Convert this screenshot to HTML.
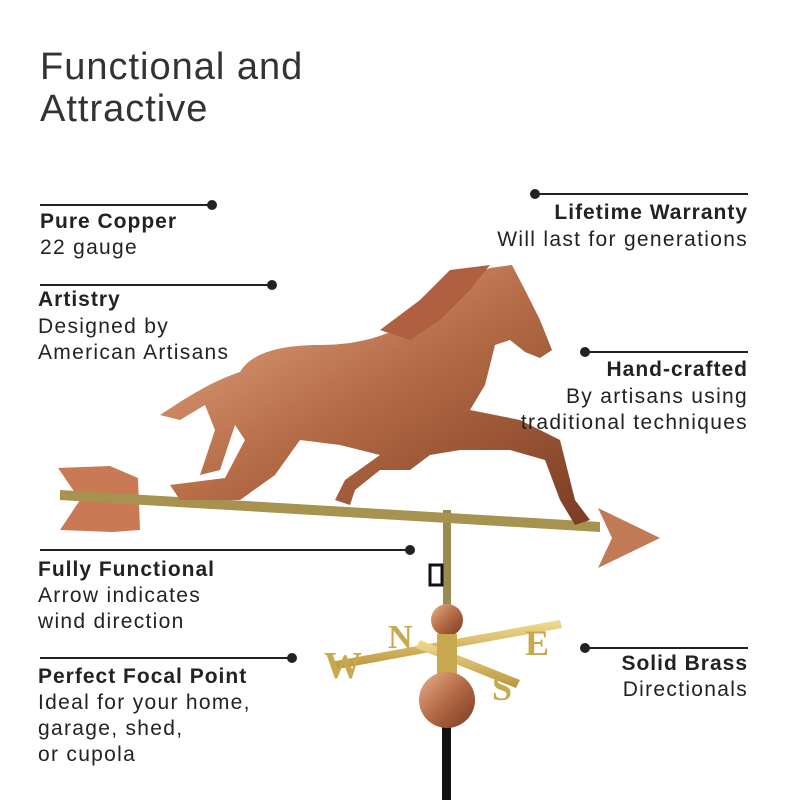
<!DOCTYPE html>
<html><head><meta charset="utf-8"><style>
body{margin:0;width:800px;height:800px;background:#fff;position:relative;overflow:hidden;font-family:"Liberation Sans",sans-serif;color:#222}
.t{position:absolute;font-size:21px;line-height:26px;letter-spacing:1.3px}
.b{font-weight:bold;letter-spacing:1px}
.r{text-align:right}
h1{position:absolute;left:40px;top:46px;margin:0;font-weight:normal;font-size:38px;line-height:42px;color:#333;letter-spacing:1px}
</style></head><body>
<h1>Functional and<br>Attractive</h1>
<svg width="800" height="800" style="position:absolute;left:0;top:0">
<defs>
<linearGradient id="cu" x1="0" y1="0" x2="1" y2="1"><stop offset="0" stop-color="#e8b08a"/><stop offset=".5" stop-color="#b46a45"/><stop offset="1" stop-color="#7a3c22"/></linearGradient>
<linearGradient id="br" x1="0" y1="0" x2="0" y2="1"><stop offset="0" stop-color="#f2dc90"/><stop offset="1" stop-color="#b8953c"/></linearGradient>
</defs>
<g stroke="#222" stroke-width="2" fill="#222">
<line x1="40" y1="205" x2="212" y2="205"/><circle cx="212" cy="205" r="4"/>
<line x1="40" y1="285" x2="272" y2="285"/><circle cx="272" cy="285" r="4"/>
<line x1="40" y1="550" x2="410" y2="550"/><circle cx="410" cy="550" r="4"/>
<line x1="40" y1="658" x2="292" y2="658"/><circle cx="292" cy="658" r="4"/>
<line x1="535" y1="194" x2="748" y2="194"/><circle cx="535" cy="194" r="4"/>
<line x1="585" y1="352" x2="748" y2="352"/><circle cx="585" cy="352" r="4"/>
<line x1="585" y1="648" x2="748" y2="648"/><circle cx="585" cy="648" r="4"/>
</g>
<rect x="443" y="510" width="8" height="180" fill="#9b8a55"/>
<rect x="442" y="690" width="9" height="110" fill="#111"/>
<rect x="430" y="565" width="12" height="20" fill="none" stroke="#111" stroke-width="3"/>
<path d="M58 468 L110 466 L138 478 L140 530 L112 532 L60 530 L80 500 Z" fill="#c97a55"/>
<path d="M60 490 L600 522 L600 532 L60 500 Z" fill="#a89250"/>
<path d="M598 508 L660 538 L598 568 L612 538 Z" fill="#c07a55"/>
<path fill="url(#cu)" d="M160 415 C190 395 215 380 240 372 C250 355 275 345 320 345 C370 345 400 330 430 310 C440 290 460 280 490 268 L512 265 L525 290 L540 320 L552 350 L540 358 L525 352 L510 340 L495 345 L485 385 L470 410 L520 420 L560 440 L575 500 L590 520 L575 525 L560 500 L545 460 L510 450 L460 450 L430 455 L410 470 L380 470 L355 490 L350 505 L335 500 L345 480 L380 455 L340 445 L300 440 L275 475 L240 500 L180 500 L170 485 L225 478 L245 440 L235 425 L220 470 L200 475 L215 430 L205 405 L180 420 Z"/>
<path fill="#b06040" d="M380 330 L420 300 L450 270 L490 265 L470 290 L440 320 L410 340 Z"/>
<g fill="url(#br)">
<path d="M330 662 L560 620 L562 628 L332 670 Z"/>
<path d="M420 640 L520 680 L516 688 L416 648 Z"/>
</g>
<text x="324" y="678" font-family="Liberation Serif" font-weight="bold" font-size="38" fill="#c9a94f">W</text>
<text x="388" y="648" font-family="Liberation Serif" font-weight="bold" font-size="34" fill="#c9a94f">N</text>
<text x="525" y="655" font-family="Liberation Serif" font-weight="bold" font-size="36" fill="#c9a94f">E</text>
<text x="492" y="700" font-family="Liberation Serif" font-weight="bold" font-size="36" fill="#c9a94f">S</text>
<circle cx="447" cy="620" r="16" fill="url(#cu)"/>
<rect x="437" y="634" width="20" height="40" fill="#c9a94f"/>
<ellipse cx="447" cy="700" rx="28" ry="28" fill="url(#cu)"/>
</svg>
<div class="t b" style="left:40px;top:209px">Pure Copper</div>
<div class="t" style="left:40px;top:235px">22 gauge</div>
<div class="t b" style="left:38px;top:287px">Artistry</div>
<div class="t" style="left:38px;top:314px">Designed by<br>American Artisans</div>
<div class="t b" style="left:38px;top:557px">Fully Functional</div>
<div class="t" style="left:38px;top:583px">Arrow indicates<br>wind direction</div>
<div class="t b" style="left:38px;top:664px">Perfect Focal Point</div>
<div class="t" style="left:38px;top:690px">Ideal for your home,<br>garage, shed,<br>or cupola</div>
<div class="t b r" style="right:52px;top:200px">Lifetime Warranty</div>
<div class="t r" style="right:52px;top:227px">Will last for generations</div>
<div class="t b r" style="right:52px;top:357px">Hand-crafted</div>
<div class="t r" style="right:52px;top:384px">By artisans using<br>traditional techniques</div>
<div class="t b r" style="right:52px;top:651px">Solid Brass</div>
<div class="t r" style="right:52px;top:677px">Directionals</div>
</body></html>
